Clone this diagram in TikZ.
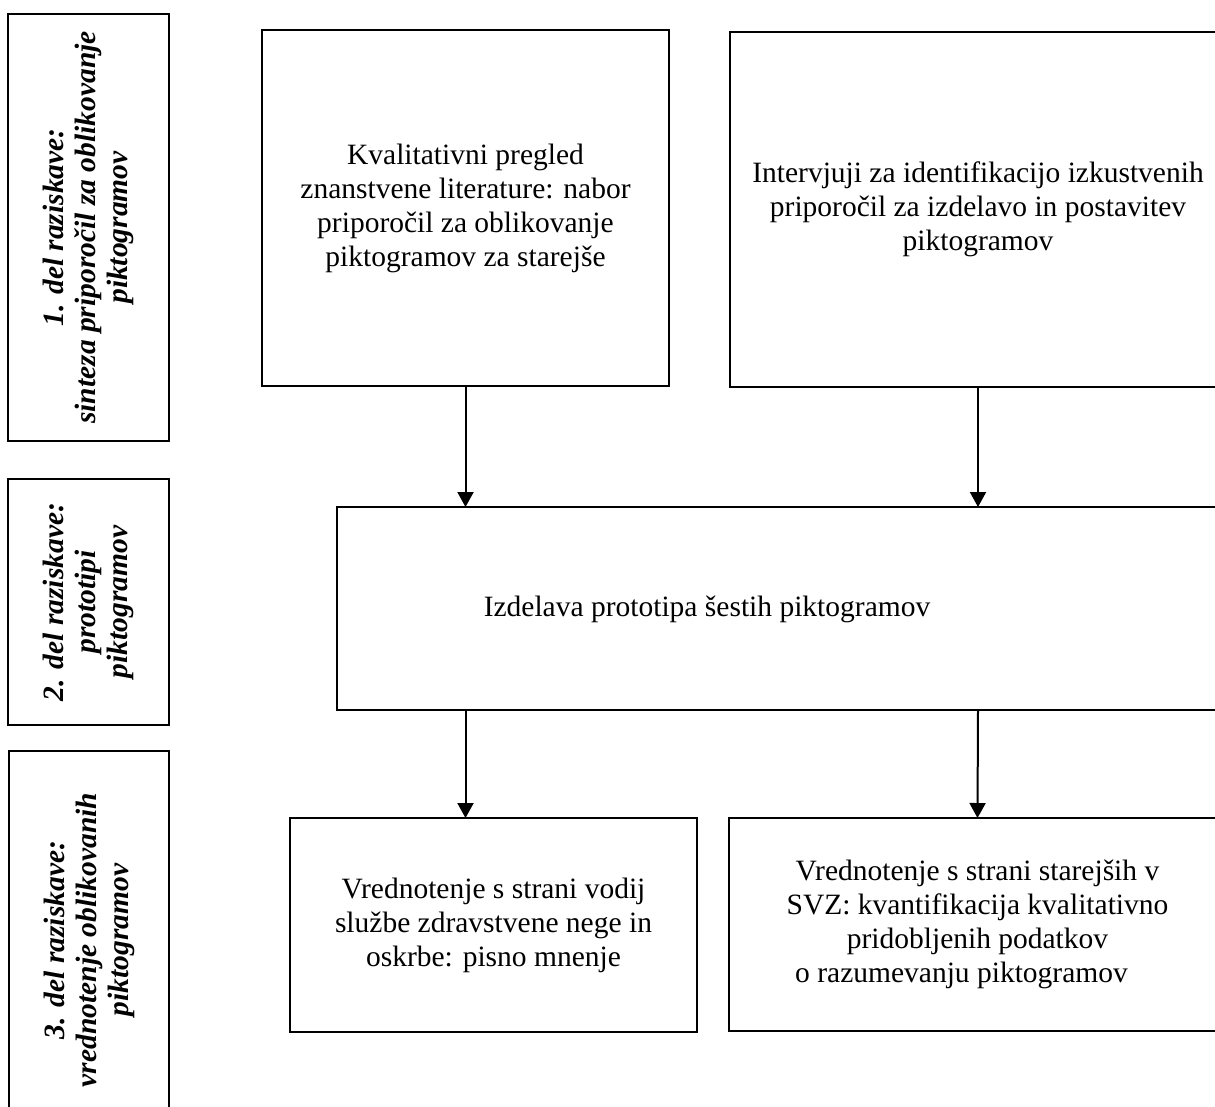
\documentclass[tikz,border=0pt]{standalone}
\usepackage{fontspec}
\setmainfont{Liberation Serif}
\usetikzlibrary{arrows.meta}
\tikzset{
  box/.style={draw, line width=2.2pt, rectangle, anchor=north west, inner sep=0pt, outer sep=0pt, align=center,
    font=\fontsize{29.5}{34}\selectfont},
  phase/.style={draw, line width=2.2pt, rectangle, anchor=north west, inner sep=0pt, outer sep=0pt},
  phasetext/.style={rotate=90, align=center, font=\fontsize{29.5}{32}\selectfont\bfseries\itshape},
  txt/.style={align=center, font=\fontsize{29.5}{34}\selectfont},
  arr/.style={line width=2pt, -{Triangle[width=16pt,length=15pt]}}
}
\begin{document}
\begin{tikzpicture}[x=1pt,y=1pt]
\useasboundingbox (0,0) rectangle (1215,-1106);
% phase boxes
\node[phase, minimum width=161pt, minimum height=427pt] (L1) at (8,-14) {};
\node[phasetext] (L1t) at (L1.center) {1. del raziskave:\\ sinteza priporočil za oblikovanje\\ piktogramov};
\node[phase, minimum width=161pt, minimum height=246pt] (L2) at (8,-479) {};
\node[phasetext] (L2t) at (L2.center) {2. del raziskave:\\ prototipi\\ piktogramov};
\node[phase, minimum width=160pt, minimum height=378pt] (L3) at (9,-751) {};
\node[phasetext] (L3t) at (L3.center) {3. del raziskave:\\ vrednotenje oblikovanih\\ piktogramov};
% main boxes
\node[box, minimum width=407pt, minimum height=356pt] (A) at (262,-30)
  {Kvalitativni pregled\\ znanstvene literature: nabor\\ priporočil za oblikovanje\\ piktogramov za starejše};
\node[box, minimum width=496pt, minimum height=355pt] (B) at (730,-32)
  {Intervjuji za identifikacijo izkustvenih\\ priporočil za izdelavo in postavitev\\ piktogramov};
\node[phase, minimum width=889pt, minimum height=203pt] (M) at (337,-507) {};
\node[txt] (Mt) at (707,-609) {Izdelava prototipa šestih piktogramov};
\node[box, minimum width=407pt, minimum height=214pt] (BL) at (290,-818)
  {Vrednotenje s strani vodij\\ službe zdravstvene nege in\\ oskrbe: pisno mnenje};
\node[box, minimum width=497pt, minimum height=213pt] (BR) at (729,-818)
  {Vrednotenje s strani starejših v\\ SVZ: kvantifikacija kvalitativno\\ pridobljenih podatkov\\ o razumevanju piktogramov\hspace*{32pt}};
% connectors
\draw[arr] (A.south) -- (A.south |- M.north);
\draw[arr] (B.south) -- (B.south |- M.north);
\draw[arr] (A.south |- M.south) -- (A.south |- BL.north);
\draw[arr] (B.south |- M.south) -- (BR.north);
\end{tikzpicture}
\end{document}
